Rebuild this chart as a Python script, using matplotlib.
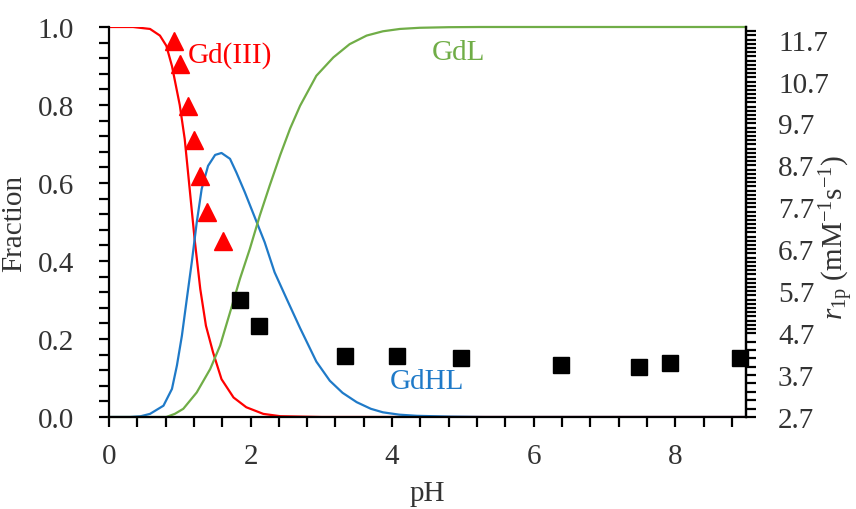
import numpy as np
import matplotlib
matplotlib.use("Agg")
import matplotlib.pyplot as plt
from matplotlib.ticker import MultipleLocator, FixedLocator, FormatStrFormatter

plt.rcParams['font.family'] = ['Liberation Serif', 'DejaVu Serif']
plt.rcParams['mathtext.fontset'] = 'custom'
plt.rcParams['mathtext.rm'] = 'Liberation Serif'
plt.rcParams['mathtext.it'] = 'Liberation Serif:italic'

# species distribution curves (pH, fraction)
gd_ph = [0.0, 0.34, 0.58, 0.72, 0.81, 0.89, 1.00, 1.07, 1.14, 1.21, 1.29, 1.37, 1.47,
         1.59, 1.76, 1.94, 2.18, 2.42, 3.0, 9.0]
gd_frac = [1.0, 1.0, 0.995, 0.978, 0.952, 0.90, 0.80, 0.713, 0.585, 0.456, 0.328, 0.234,
           0.166, 0.097, 0.050, 0.025, 0.008, 0.002, 0.0, 0.0]

gdhl_ph = [0.0, 0.30, 0.45, 0.58, 0.77, 0.89, 0.96, 1.03, 1.10, 1.17, 1.24, 1.31, 1.40,
           1.50, 1.59, 1.71, 1.80, 1.92, 2.06, 2.20, 2.34, 2.51, 2.70, 2.93, 3.12, 3.30,
           3.50, 3.70, 3.87, 4.10, 4.35, 4.82, 5.3, 9.0]
gdhl_frac = [0.0, 0.0, 0.002, 0.008, 0.029, 0.072, 0.132, 0.208, 0.303, 0.397, 0.499,
             0.585, 0.644, 0.672, 0.677, 0.662, 0.627, 0.576, 0.512, 0.448, 0.371, 0.303,
             0.228, 0.142, 0.093, 0.062, 0.038, 0.021, 0.012, 0.006, 0.003, 0.001, 0.0, 0.0]

gdl_ph = [0.0, 0.81, 0.93, 1.05, 1.24, 1.43, 1.57, 1.71, 1.85, 1.99, 2.13, 2.27, 2.42,
          2.56, 2.70, 2.93, 3.17, 3.40, 3.64, 3.87, 4.11, 4.39, 4.8, 5.24, 9.0]
gdl_frac = [0.0, 0.0, 0.008, 0.021, 0.063, 0.123, 0.183, 0.268, 0.354, 0.431, 0.516,
            0.593, 0.672, 0.740, 0.798, 0.875, 0.922, 0.956, 0.978, 0.989, 0.995, 0.998,
            0.9995, 1.0, 1.0]

# relaxivity r1p (mM-1 s-1)
tri_ph = [0.92, 1.00, 1.11, 1.20, 1.28, 1.39, 1.61]
tri_r1p = [11.67, 11.12, 10.12, 9.31, 8.45, 7.59, 6.90]
sq_ph = [1.85, 2.12, 3.34, 4.07, 4.97, 6.39, 7.49, 7.93, 8.91]
sq_r1p = [5.49, 4.86, 4.15, 4.15, 4.10, 3.95, 3.89, 3.98, 4.10]

fig = plt.figure(figsize=(8.56, 5.10), dpi=100)
ax = fig.add_axes([0.1273, 0.1804, 0.7442, 0.7647])
ax2 = ax.twinx()

ax.plot(gd_ph, gd_frac, color='#FF0000', lw=1.6)
ax.plot(gdhl_ph, gdhl_frac, color='#1F7AC8', lw=1.6)
ax.plot(gdl_ph, gdl_frac, color='#70AD47', lw=1.6, clip_on=False)

ax2.plot(tri_ph, tri_r1p, ls='none', marker='^', ms=13, color='#FF0000')
ax2.plot(sq_ph, sq_r1p, ls='none', marker='s', ms=12, color='black', clip_on=False)

ax.text(1.12, 0.93, 'Gd(III)', color='#FF0000', fontsize=21, va='center', ha='left')
ax.text(4.56, 0.936, 'GdL', color='#70AD47', fontsize=21, va='center', ha='left')
ax.text(3.97, 0.093, 'GdHL', color='#1F7AC8', fontsize=21, va='center', ha='left')

ax.set_xlim(0, 9)
ax.set_ylim(0, 1.0)
ax2.set_ylim(2.7, 12.0)

ax.xaxis.set_major_locator(FixedLocator([0, 2, 4, 6, 8]))
ax.xaxis.set_minor_locator(MultipleLocator(0.4))
ax.yaxis.set_major_locator(MultipleLocator(0.2))
ax.yaxis.set_minor_locator(MultipleLocator(0.04))
ax.yaxis.set_major_formatter(FormatStrFormatter('%.1f'))

r_major = np.arange(2.7, 12.0, 1.0)
r_minor = np.concatenate([np.arange(2.7, 4.7, 0.2), np.arange(4.7, 12.0, 0.1)])
ax2.yaxis.set_major_locator(FixedLocator(r_major))
ax2.yaxis.set_minor_locator(FixedLocator(r_minor))
ax2.set_yticklabels(['%.1f' % v for v in r_major])

for a in (ax, ax2):
    for s in a.spines.values():
        s.set_linewidth(1.6)
    a.spines['top'].set_visible(False)
    a.tick_params(which='both', direction='out', length=7, width=1.6,
                  labelsize=21, labelcolor='#333333')
ax.tick_params(axis='y', pad=18)
ax.tick_params(axis='x', pad=12)
ax2.tick_params(axis='y', pad=16)
ax2.spines['left'].set_visible(False)
ax2.spines['bottom'].set_visible(False)

ax.set_xlabel('pH', fontsize=21, color='#333333', labelpad=8)
ax.set_ylabel('Fraction', fontsize=21, color='#333333', labelpad=8)
fig.text(837 / 856, 1 - 237 / 510,
         r'$r_{\mathrm{1p}}$ (mM$^{\mathrm{-1}}$s$^{\mathrm{-1}}$)',
         fontsize=21, color='#333333', rotation=90, ha='center', va='center')

fig.savefig('out.png', dpi=100)
